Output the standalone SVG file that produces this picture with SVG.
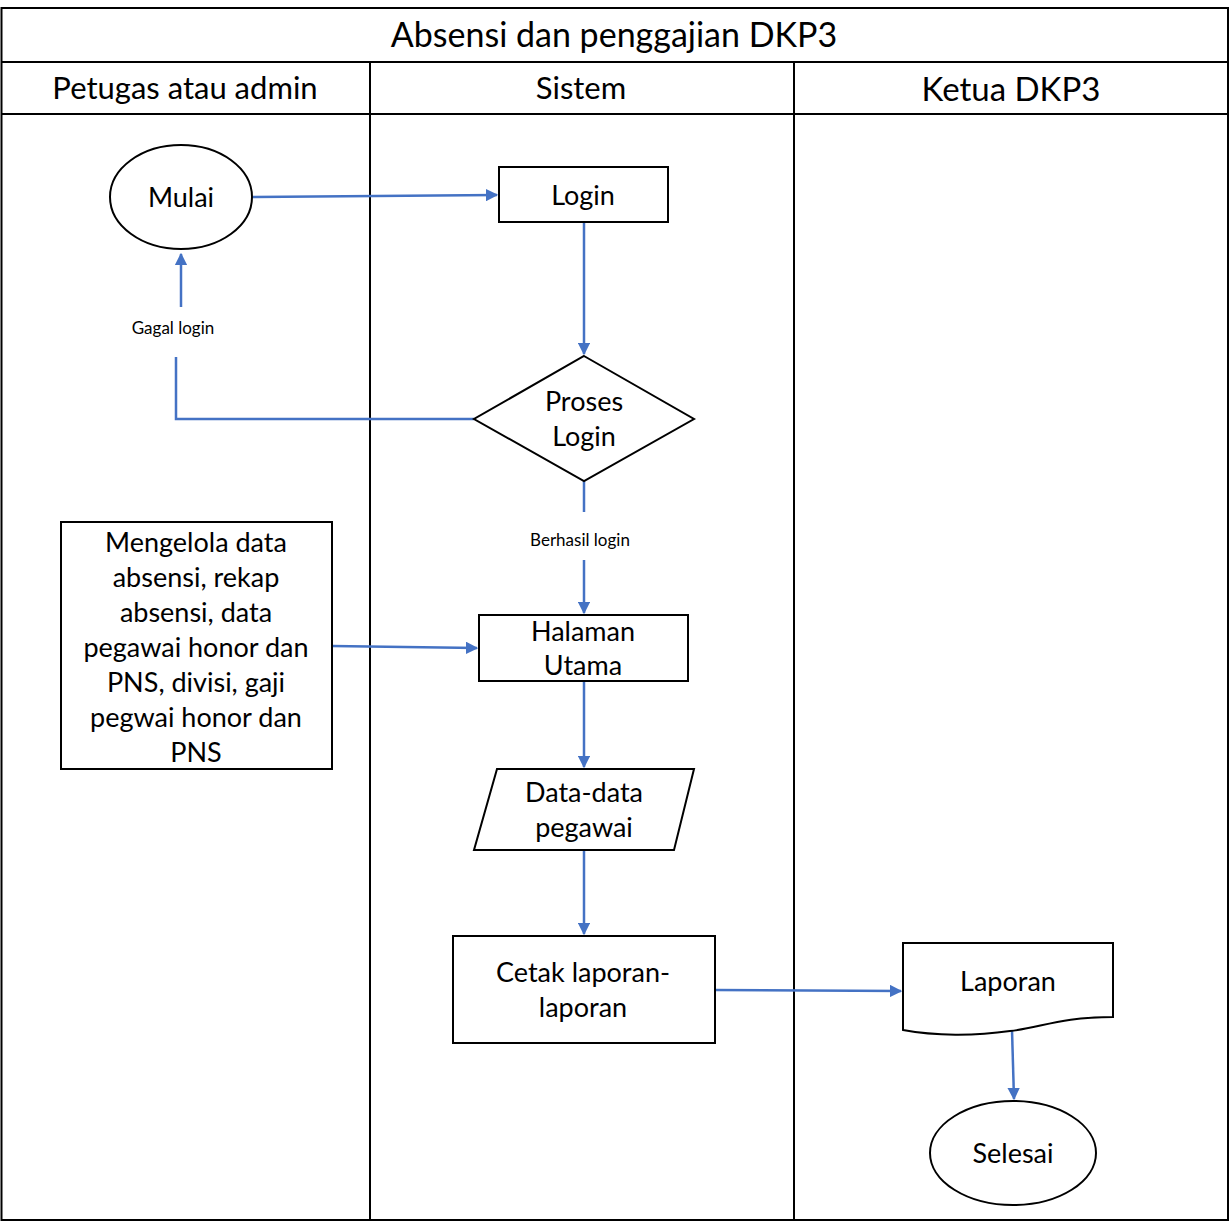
<svg xmlns="http://www.w3.org/2000/svg" width="1230" height="1222" viewBox="0 0 1230 1222">
<style>
.ln{fill:none;stroke:#000;stroke-width:2}
.sh{fill:#fff;stroke:#000;stroke-width:2}
.c{fill:none;stroke:#4472C4;stroke-width:2.5}
text{font-family:Lato,"Open Sans",sans-serif;fill:#000;text-anchor:middle}
.t{font-size:27px}
.s{font-size:17px}
</style>
<defs>
<marker id="ah" viewBox="0 0 10 10" refX="9" refY="5" markerWidth="5" markerHeight="5" orient="auto" markerUnits="strokeWidth">
<path d="M0,0 L10,5 L0,10 z" fill="#4472C4"/>
</marker>
</defs>
<rect width="1230" height="1222" fill="#fff"/>
<g id="pool">
<rect class="ln" x="1.5" y="8" width="1226.5" height="1212"/>
<line class="ln" x1="1.5" y1="62" x2="1228" y2="62"/>
<line class="ln" x1="1.5" y1="114" x2="1228" y2="114"/>
<line class="ln" x1="370" y1="62" x2="370" y2="1220"/>
<line class="ln" x1="794" y1="62" x2="794" y2="1220"/>
<text x="614" y="47" style="font-size:34px">Absensi dan penggajian DKP3</text>
<text x="185" y="99" style="font-size:31px">Petugas atau admin</text>
<text x="581" y="99" style="font-size:31px">Sistem</text>
<text x="1011" y="101" style="font-size:33px">Ketua DKP3</text>
</g>
<g id="connectors">
<path class="c" d="M253,197 L497,195" marker-end="url(#ah)"/>
<path class="c" d="M584,222 L584,354" marker-end="url(#ah)"/>
<path class="c" d="M474,419 L176,419 L176,357"/>
<path class="c" d="M181,307 L181,254" marker-end="url(#ah)"/>
<text class="s" x="173" y="334">Gagal login</text>
<path class="c" d="M584,481 L584,512"/>
<text class="s" x="580" y="546">Berhasil login</text>
<path class="c" d="M584,560 L584,613" marker-end="url(#ah)"/>
<path class="c" d="M332,646 L477,648" marker-end="url(#ah)"/>
<path class="c" d="M584,681 L584,767" marker-end="url(#ah)"/>
<path class="c" d="M584,850 L584,934" marker-end="url(#ah)"/>
<path class="c" d="M715,990 L901,991" marker-end="url(#ah)"/>
<path class="c" d="M1012,1030 L1014,1099" marker-end="url(#ah)"/>
</g>
<g id="mulai">
<ellipse class="sh" cx="181" cy="197" rx="71" ry="52"/>
<text class="t" x="181" y="207">Mulai</text>
</g>
<g id="login">
<rect class="sh" x="499" y="167" width="169" height="55"/>
<text class="t" x="583" y="205">Login</text>
</g>
<g id="proses-login">
<polygon class="sh" points="584,356 694,419 584,481 474,419"/>
<text class="t" x="584" y="411">Proses</text>
<text class="t" x="584" y="446">Login</text>
</g>
<g id="mengelola">
<rect class="sh" x="61" y="522" width="271" height="247"/>
<text class="t" x="196" y="552">Mengelola data</text>
<text class="t" x="196" y="587">absensi, rekap</text>
<text class="t" x="196" y="622">absensi, data</text>
<text class="t" x="196" y="657">pegawai honor dan</text>
<text class="t" x="196" y="692">PNS, divisi, gaji</text>
<text class="t" x="196" y="727">pegwai honor dan</text>
<text class="t" x="196" y="762">PNS</text>
</g>
<g id="halaman-utama">
<rect class="sh" x="479" y="615" width="209" height="66"/>
<text class="t" x="583" y="641">Halaman</text>
<text class="t" x="583" y="675">Utama</text>
</g>
<g id="data-pegawai">
<polygon class="sh" points="497,769 694,769 674,850 474,850"/>
<text class="t" x="584" y="802">Data-data</text>
<text class="t" x="584" y="837">pegawai</text>
</g>
<g id="cetak">
<rect class="sh" x="453" y="936" width="262" height="107"/>
<text class="t" x="583" y="982">Cetak laporan-</text>
<text class="t" x="583" y="1017">laporan</text>
</g>
<g id="laporan">
<path class="sh" d="M903,943 L1113,943 L1113,1017 C1060,1017 1040,1028 1010,1031 C975,1036 935,1036 903,1030 Z"/>
<text class="t" x="1008" y="991">Laporan</text>
</g>
<g id="selesai">
<ellipse class="sh" cx="1013" cy="1153" rx="83" ry="52"/>
<text class="t" x="1013" y="1163">Selesai</text>
</g>
</svg>
